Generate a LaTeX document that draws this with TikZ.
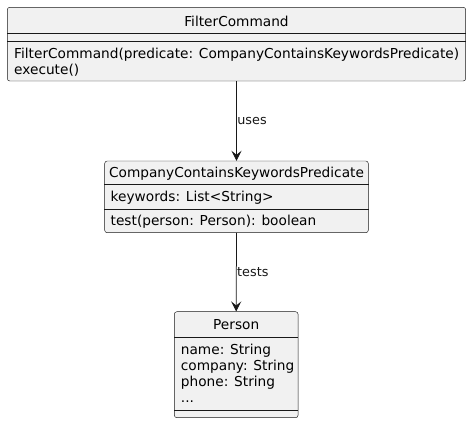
\documentclass[tikz,border=0pt]{standalone}
\usepackage{fontspec}
\setmainfont{DejaVu Sans}
\usetikzlibrary{arrows.meta}
\definecolor{boxfill}{HTML}{F1F1F1}
\definecolor{boxline}{HTML}{181818}
\tikzset{
  classbox/.style={draw=boxline, fill=boxfill, line width=0.45pt, rounded corners=2.5pt, rectangle, inner sep=0pt},
  sepline/.style={draw=boxline, line width=0.45pt},
  title/.style={inner sep=0pt, anchor=base, font=\fontsize{13.7}{16}\selectfont},
  member/.style={inner sep=0pt, anchor=base west, font=\fontsize{13.7}{16}\selectfont},
  arr/.style={draw=boxline, line width=0.75pt, -{Stealth[length=10pt,width=10pt,inset=4pt]}},
  lbl/.style={inner sep=0.5pt, anchor=west, font=\fontsize{12.8}{15}\selectfont, text=boxline}
}
\begin{document}
\begin{tikzpicture}[x=1pt,y=-1pt]
\useasboundingbox (0,0) rectangle (471,424);
% FilterCommand
\node[classbox, minimum width=458.4pt, minimum height=73.7pt] (fc) at (236.5,44.15) {};
\draw[sepline] (fc.west |- 0,33.3) -- (fc.east |- 0,33.3);
\draw[sepline] (fc.west |- 0,41.7) -- (fc.east |- 0,41.7);
\node[title] (fct) at (236.5,26) {FilterCommand};
\node[member] (fcm1) at (14,58.3) {FilterCommand(predicate: CompanyContainsKeywordsPredicate)};
\node[member] (fcm2) at (14,74.3) {execute()};
% CompanyContainsKeywordsPredicate
\node[classbox, minimum width=263.6pt, minimum height=71.7pt] (ccp) at (236.5,196.85) {};
\draw[sepline] (ccp.west |- 0,184.3) -- (ccp.east |- 0,184.3);
\draw[sepline] (ccp.west |- 0,209) -- (ccp.east |- 0,209);
\node[title] (ccpt) at (236.5,177.8) {CompanyContainsKeywordsPredicate};
\node[member] (ccpa) at (110.5,201) {keywords: List<String>};
\node[member] (ccpm) at (110.5,225.6) {test(person: Person): boolean};
% Person
\node[classbox, minimum width=123.7pt, minimum height=106pt] (p) at (236.2,364.7) {};
\draw[sepline] (p.west |- 0,337.3) -- (p.east |- 0,337.3);
\draw[sepline] (p.west |- 0,410) -- (p.east |- 0,410);
\node[title] (pt) at (236.2,329.6) {Person};
\node[member] (pa1) at (180.7,354) {name: String};
\node[member] (pa2) at (180.7,370) {company: String};
\node[member] (pa3) at (180.7,386) {phone: String};
\node[member] (pa4) at (180.7,402) {...};
% connectors
\draw[arr] (fc.south) -- node[lbl] {uses} (ccp.north);
\draw[arr] (ccp.south) -- node[lbl] {tests} (p.north);
\end{tikzpicture}
\end{document}
